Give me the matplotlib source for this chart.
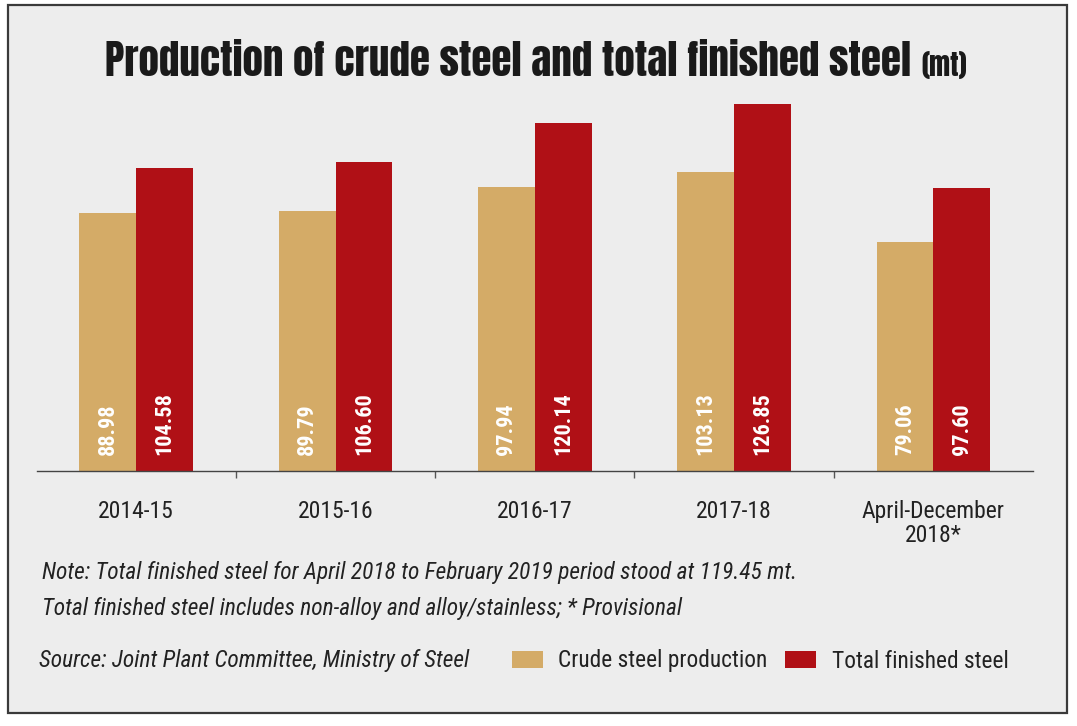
"""
Crude steel vs total finished steel, bar chart
"""
import matplotlib
matplotlib.use('Agg')
import matplotlib.pyplot as plt
from matplotlib import font_manager as fm
from matplotlib.patches import Rectangle
import numpy as np

W, H = 1077, 726

# data (mt)
periods = ['2014-15', '2015-16', '2016-17', '2017-18', 'April-December\n2018*']
crude = [88.98, 89.79, 97.94, 103.13, 79.06]
finished = [104.58, 106.60, 120.14, 126.85, 97.60]
crude_lbl = ['88.98', '89.79', '97.94', '103.13', '79.06']
finished_lbl = ['104.58', '106.60', '120.14', '126.85', '97.60']

c_crude = '#D4AB67'
c_fin = '#B01016'
bg = '#EDEDED'

have = set(f.name for f in fm.fontManager.ttflist)
def pick(cands):
    out = [c for c in cands if c in have]
    return out + ['DejaVu Sans']

narrow = pick(['Roboto Condensed', 'Archivo Narrow', 'Barlow Semi Condensed', 'Asap Condensed'])
heavy = pick(['Anton', 'Oswald', 'League Gothic', 'Fjalla One', 'Barlow Condensed'])

def fx(x):
    return x / W

def fy(y):
    return 1 - y / H

fig = plt.figure(figsize=(W / 100, H / 100), dpi=100)
fig.patch.set_facecolor('white')
fig.patches.append(Rectangle((fx(8), fy(713)), fx(1067) - fx(8), fy(5) - fy(713),
                             transform=fig.transFigure, facecolor=bg,
                             edgecolor='#3a3a3a', linewidth=1.6, zorder=-10))

ax = fig.add_axes([fx(36.6), fy(471), fx(1033) - fx(36.6), 130 * 2.897 / H])
ax.set_facecolor('none')
x = np.arange(len(periods))
bw = 0.285
b1 = ax.bar(x - bw / 2, crude, bw, color=c_crude, label='Crude steel production')
b2 = ax.bar(x + bw / 2, finished, bw, color=c_fin, label='Total finished steel')
ax.set_xlim(-0.5, 4.5)
ax.set_ylim(0, 130)

for xi, lbl in zip(x - bw / 2, crude_lbl):
    ax.annotate(lbl, xy=(xi, 0), xytext=(0, 16), textcoords='offset pixels',
                rotation=90, ha='center', va='bottom', color='white',
                fontsize=16, fontweight='bold', family=narrow)
for xi, lbl in zip(x + bw / 2, finished_lbl):
    ax.annotate(lbl, xy=(xi, 0), xytext=(0, 16), textcoords='offset pixels',
                rotation=90, ha='center', va='bottom', color='white',
                fontsize=16, fontweight='bold', family=narrow)

for s in ['top', 'right', 'left']:
    ax.spines[s].set_visible(False)
ax.spines['bottom'].set_color('#444444')
ax.spines['bottom'].set_linewidth(1.0)
ax.set_yticks([])
ax.set_xticks(x)
ax.set_xticklabels(periods, fontsize=17, family=narrow, color='#222222',
                   linespacing=1.05)
ax.tick_params(axis='x', which='major', length=0, pad=21)
ax.set_xticks(x[:-1] + 0.5, minor=True)
ax.tick_params(axis='x', which='minor', length=5, width=1, color='#555555')

# title
fig.text(fx(105), fy(76), 'Production of crude steel and total finished steel',
         fontsize=29.5, family=heavy, color='#1a1a1a', ha='left', va='baseline')
fig.text(fx(921), fy(76), '(mt)', fontsize=20, family=heavy, color='#1a1a1a',
         ha='left', va='baseline')

# notes
note_fs = 16.8
fig.text(fx(42), fy(573), 'Note: Total finished steel for April 2018 to February 2019 period stood at 119.45 mt.',
         fontsize=note_fs, style='italic', family=narrow, color='#222222', va='center')
fig.text(fx(42), fy(608), 'Total finished steel includes non-alloy and alloy/stainless; * Provisional',
         fontsize=note_fs, style='italic', family=narrow, color='#222222', va='center')
fig.text(fx(39), fy(661), 'Source: Joint Plant Committee, Ministry of Steel',
         fontsize=note_fs, style='italic', family=narrow, color='#222222', va='center')

lg = fig.legend(handles=[b1, b2], loc='center left',
                bbox_to_anchor=(fx(512), fy(661)), ncols=2, frameon=False,
                prop={'family': narrow, 'size': note_fs}, handlelength=1.34,
                handleheight=0.78, handletextpad=0.65, columnspacing=0.75,
                borderpad=0, borderaxespad=0)
for txt in lg.get_texts():
    txt.set_color('#222222')

fig.savefig('out.png', dpi=100, facecolor='white')
